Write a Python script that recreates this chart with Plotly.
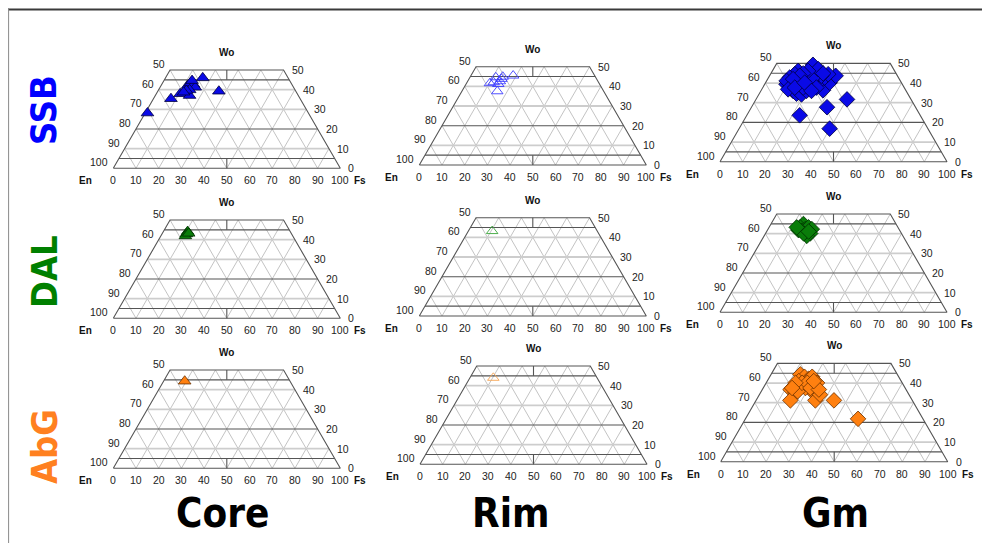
import math
import plotly.graph_objects as go

# ---------------- data (mol %, Wo and Fs; En = 100 - Wo - Fs) ----------------
ssb_core_wo = [46.0, 39.2, 28.1, 35.4, 37.9, 37.0, 42.1, 43.3, 42.6, 41.2, 39.9, 39.6, 38.7, 44.6]
ssb_core_fs = [16.4, 26.9, 1.0, 7.7, 10.5, 15.1, 11.7, 12.3, 14.1, 15.5, 13.7, 12.4, 11.6, 12.4]

ssb_rim_wo = [45.5, 43.8, 42.6, 44.6, 41.6, 42.1, 37.5, 41.2, 44.9]
ssb_rim_fs = [18.6, 14.3, 14.2, 11.4, 10.3, 11.7, 15.6, 14.2, 14.3]

ssb_gm_wo = [49.3, 31.7, 27.7, 23.6, 16.8, 36.3, 40.2, 43.7,
             39.4, 37.7, 36.0, 34.6, 34.2, 36.0, 37.7, 39.4, 41.1, 42.8, 44.5,
             46.2, 44.5, 42.8, 41.1, 42.8, 44.5, 45.4, 43.7,
             39.4, 41.1, 37.7, 39.4, 40.2, 41.1,
             42.8, 47.1, 44.9, 46.2, 44.9, 43.7, 42.0,
             36.8, 37.7, 40.2, 37.7, 36.0]
ssb_gm_fs = [16.3, 40.1, 33.3, 23.3, 39.9, 27.2, 28.2, 29.1,
             9.6, 11.9, 14.2, 16.4, 18.8, 20.1, 20.7, 22.0, 23.4, 24.7, 25.4,
             11.3, 10.7, 9.3, 14.6, 15.9, 17.3, 19.8, 22.8,
             18.4, 19.7, 17.8, 14.0, 11.4, 8.8,
             19.6, 19.7, 23.0, 15.7, 14.2, 13.3, 11.2,
             11.6, 14.1, 17.2, 23.6, 22.3]

dal_core_wo = [44.1, 42.9, 41.9, 43.2]
dal_core_fs = [10.7, 10.7, 10.8, 11.6]

dal_rim_wo = [43.2]
dal_rim_fs = [10.5]

dal_gm_wo = [44.9, 43.2, 41.8, 41.4, 42.3, 43.2, 42.3, 40.1, 38.9, 40.1, 43.2, 41.1]
dal_gm_fs = [14.3, 13.7, 13.7, 15.3, 16.4, 17.4, 19.3, 19.7, 18.8, 16.8, 12.2, 18.5]

abg_core_wo = [44.3]
abg_core_fs = [9.3]

abg_rim_wo = [44.0]
abg_rim_fs = [10.3]

abg_gm_wo = [44.4, 43.2, 42.2, 43.2, 40.1, 38.4, 36.7, 37.5, 41.0, 38.4, 36.7, 35.0, 35.8,
             31.2, 31.2, 34.1, 31.2, 21.8, 40.1, 40.1, 40.1, 37.5, 37.5, 36.7, 41.0]
abg_gm_fs = [12.9, 15.3, 17.7, 18.7, 22.4, 21.8, 21.2, 18.6, 13.9, 13.0, 12.4, 15.4, 16.0,
             15.1, 26.1, 26.7, 34.3, 49.6, 15.8, 18.1, 12.9, 12.7, 20.8, 24.9, 20.5]

groups = ["SSB", "DAL", "AbG"]
parts = ["Core", "Rim", "Gm"]

bottom_ticks = [0, 10, 20, 30, 40, 50, 60, 70, 80, 90, 100]      # Fs
left_ticks = [50, 60, 70, 80, 90, 100]                            # En along left edge
right_ticks = [50, 40, 30, 20, 10, 0]                             # Wo along right edge
diag_levels = [10, 20, 30, 40, 50, 60, 70, 80, 90]
light_wo_lines = [10, 30, 40]
class_wo_lines = [5, 20, 45]
WO_MAX = 50

# ---------------- styles / layout ----------------
W, H = 990, 543
S = 2.27                       # px per composition unit
XR = (-16, 116)
YR = (-10, 52)
R3 = math.sqrt(3) / 2
OFF = 8                        # page body margin

group_fill = {"SSB": "#0a0ae6", "DAL": "#0a7d0a", "AbG": "#ff8010"}
group_edge = {"SSB": "#00003c", "DAL": "#003000", "AbG": "#6a3000"}
group_open = {"SSB": "#3c3cff", "DAL": "#3aa63a", "AbG": "#f7a552"}
label_color = {"SSB": "#0000ff", "DAL": "#008000", "AbG": "#ff8020"}

# panel origins (bottom-left vertex, in screen px)
origins = {
    (0, 0): (113.3, 168.3), (0, 1): (419.3, 165.0), (0, 2): (720.0, 161.7),
    (1, 0): (113.3, 318.3), (1, 1): (419.3, 316.0), (1, 2): (720.0, 312.3),
    (2, 0): (113.3, 468.3), (2, 1): (420.0, 464.3), (2, 2): (720.7, 461.7),
}

data = {
    ("SSB", "Core"): (ssb_core_wo, ssb_core_fs), ("SSB", "Rim"): (ssb_rim_wo, ssb_rim_fs),
    ("SSB", "Gm"): (ssb_gm_wo, ssb_gm_fs),
    ("DAL", "Core"): (dal_core_wo, dal_core_fs), ("DAL", "Rim"): (dal_rim_wo, dal_rim_fs),
    ("DAL", "Gm"): (dal_gm_wo, dal_gm_fs),
    ("AbG", "Core"): (abg_core_wo, abg_core_fs), ("AbG", "Rim"): (abg_rim_wo, abg_rim_fs),
    ("AbG", "Gm"): (abg_gm_wo, abg_gm_fs),
}


def proj(wo, fs):
    return fs + wo / 2.0, wo * R3


fig = go.Figure()
layout = dict(width=W, height=H, margin=dict(l=0, r=0, t=0, b=0),
              paper_bgcolor="white", plot_bgcolor="rgba(0,0,0,0)", showlegend=False)
annotations = []
tick_font = dict(family="Liberation Sans, Arial, sans-serif", size=10.5, color="#222")
ax_font = dict(family="Liberation Sans, Arial, sans-serif", size=10, color="#111", weight="bold")

for r, g in enumerate(groups):
    for c, p in enumerate(parts):
        idx = r * 3 + c + 1
        sfx = "" if idx == 1 else str(idx)
        xa, ya = "x" + sfx, "y" + sfx
        bx, by = origins[(r, c)]
        bx -= OFF
        by -= OFF
        layout["xaxis" + sfx] = dict(domain=[(bx + XR[0] * S) / W, (bx + XR[1] * S) / W],
                                     range=list(XR), visible=False, fixedrange=True, anchor=ya)
        layout["yaxis" + sfx] = dict(domain=[1 - (by - YR[0] * S) / H, 1 - (by - YR[1] * S) / H],
                                     range=list(YR), visible=False, fixedrange=True, anchor=xa)

        # light diagonal grid
        gx, gy = [], []
        for b in diag_levels:
            wmax = min(WO_MAX, 100 - b)          # constant Fs = b
            x1, y1 = proj(wmax, b)
            gx += [b, x1, None]; gy += [0, y1, None]
            wmax = min(WO_MAX, b)                # constant En = 100 - b
            x1, y1 = proj(wmax, b - wmax)
            gx += [b, x1, None]; gy += [0, y1, None]
        fig.add_trace(go.Scatter(x=gx, y=gy, mode="lines", xaxis=xa, yaxis=ya, hoverinfo="skip",
                                 line=dict(color="#b4b4b4", width=0.8)))
        # light horizontal lines
        hx, hy = [], []
        for w in light_wo_lines:
            xl, yl = proj(w, 0); xr, yr = proj(w, 100 - w)
            hx += [xl, xr, None]; hy += [yl, yr, None]
        fig.add_trace(go.Scatter(x=hx, y=hy, mode="lines", xaxis=xa, yaxis=ya, hoverinfo="skip",
                                 line=dict(color="#cdcdcd", width=1.8)))
        # dark outline and classification lines
        dx, dy = [], []
        for (w, f) in [(0, 0), (0, 100), (WO_MAX, 100 - WO_MAX), (WO_MAX, 0), (0, 0)]:
            xx, yy = proj(w, f); dx.append(xx); dy.append(yy)
        dx.append(None); dy.append(None)
        for w in class_wo_lines:
            xl, yl = proj(w, 0); xr, yr = proj(w, 100 - w)
            dx += [xl, xr, None]; dy += [yl, yr, None]
        for (w0, w1) in [(0, 5), (45, 50)]:
            x0, y0 = proj(w0, 50 - w0 / 2); x1, y1 = proj(w1, 50 - w1 / 2)
            dx += [x0, x1, None]; dy += [y0, y1, None]
        fig.add_trace(go.Scatter(x=dx, y=dy, mode="lines", xaxis=xa, yaxis=ya, hoverinfo="skip",
                                 line=dict(color="#555555", width=1.1)))

        # data points
        wo, fs = data[(g, p)]
        px = [f + w / 2.0 for w, f in zip(wo, fs)]
        py = [w * R3 for w in wo]
        en = [round(100 - w - f, 1) for w, f in zip(wo, fs)]
        if p == "Core":
            mk = dict(symbol="triangle-up", size=11, color=group_fill[g],
                      line=dict(color=group_edge[g], width=0.8))
        elif p == "Rim":
            mk = dict(symbol="triangle-up-open", size=10, color=group_open[g],
                      line=dict(width=0.9))
        else:
            mk = dict(symbol="diamond", size=12, color=group_fill[g],
                      line=dict(color=group_edge[g], width=0.8))
        fig.add_trace(go.Scatter(x=px, y=py, mode="markers", xaxis=xa, yaxis=ya, marker=mk,
                                 customdata=list(zip(wo, en, fs)), name=f"{g} {p}",
                                 hovertemplate="Wo %{customdata[0]}<br>En %{customdata[1]}<br>Fs %{customdata[2]}<extra></extra>"))

        # labels
        for v in bottom_ticks:
            annotations.append(dict(x=v, y=0, xref=xa, yref=ya, text=str(v), showarrow=False,
                                    xanchor="center", yanchor="top", yshift=-4, font=tick_font))
        for v in left_ticks:
            w = 100 - v
            xx, yy = proj(w, 0)
            annotations.append(dict(x=xx, y=yy, xref=xa, yref=ya, text=str(v), showarrow=False,
                                    xanchor="right", yanchor="middle", xshift=-3, yshift=6, font=tick_font))
        for v in right_ticks:
            xx, yy = proj(v, 100 - v)
            annotations.append(dict(x=xx, y=yy, xref=xa, yref=ya, text=str(v), showarrow=False,
                                    xanchor="left", yanchor="middle", xshift=6, yshift=0, font=tick_font))
        xx, yy = proj(WO_MAX, 50 - WO_MAX / 2)
        annotations.append(dict(x=xx, y=yy, xref=xa, yref=ya, text="Wo", showarrow=False,
                                xanchor="center", yanchor="bottom", yshift=10, font=ax_font))
        annotations.append(dict(x=0, y=0, xref=xa, yref=ya, text="En", showarrow=False,
                                xanchor="right", yanchor="top", xshift=-19, yshift=-5, font=ax_font))
        annotations.append(dict(x=100, y=0, xref=xa, yref=ya, text="Fs", showarrow=False,
                                xanchor="left", yanchor="top", xshift=12, yshift=-5, font=ax_font))

big_font = "DejaVu Sans Condensed, DejaVu Sans, sans-serif"
row_y = [110, 272, 447]
for g, yc in zip(groups, row_y):
    annotations.append(dict(x=(44 - OFF) / W, y=1 - (yc - OFF) / H, xref="paper", yref="paper", text=g,
                            showarrow=False, textangle=-90, xanchor="center", yanchor="middle",
                            font=dict(family=big_font, size=36, color=label_color[g], weight="bold")))
col_x = [222, 511, 835]
for p, xc in zip(parts, col_x):
    annotations.append(dict(x=(xc - OFF) / W, y=1 - (513 - OFF) / H, xref="paper", yref="paper", text=p,
                            showarrow=False, xanchor="center", yanchor="middle",
                            font=dict(family=big_font, size=40, color="black", weight="bold")))

layout["annotations"] = annotations
layout["shapes"] = [
    dict(type="line", xref="paper", yref="paper", x0=0, x1=1, y0=1 - 1.5 / H, y1=1 - 1.5 / H,
         line=dict(color="#3a3a3a", width=2)),
    dict(type="line", xref="paper", yref="paper", x0=0.6 / W, x1=0.6 / W, y0=1, y1=0,
         line=dict(color="#8a8a8a", width=1)),
]
fig.update_layout(**layout)
fig.write_html("out.html")
